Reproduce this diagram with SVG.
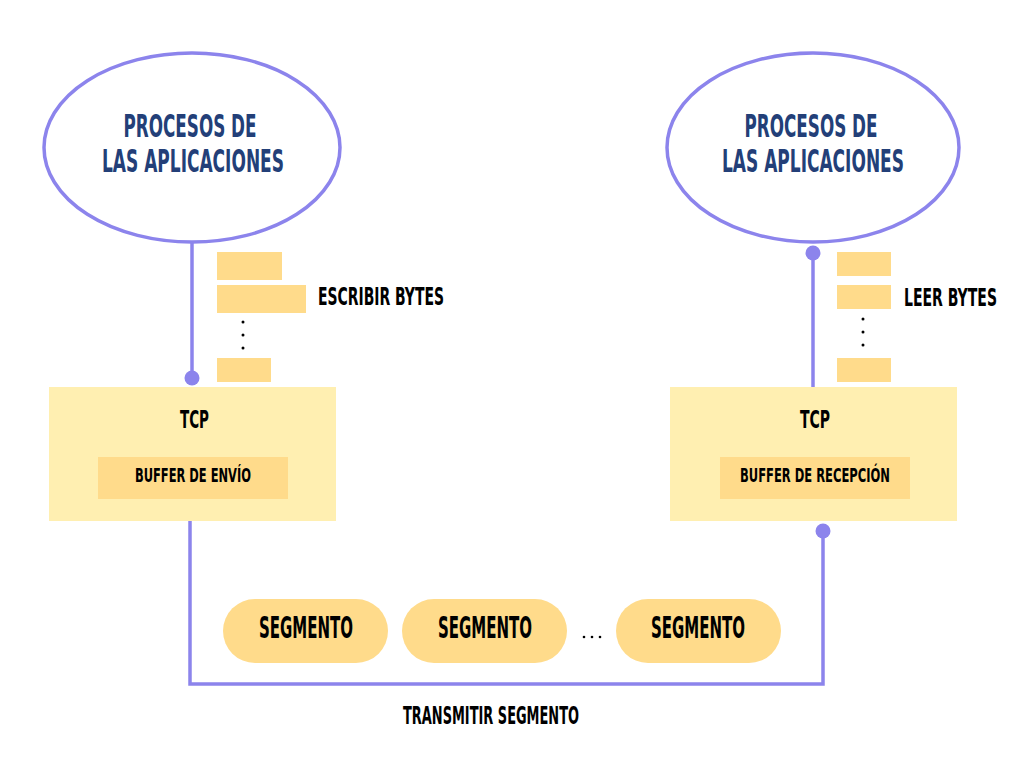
<svg xmlns="http://www.w3.org/2000/svg" width="1024" height="768" viewBox="0 0 1024 768">
<style>
text{font-family:"Liberation Sans Narrow","DejaVu Sans Condensed","Liberation Sans",sans-serif;font-weight:bold;}
.proc{fill:#233f78;font-size:32px;text-anchor:middle;}
.lbl{fill:#000;font-size:24px;}
.tcp{fill:#000;font-size:25px;text-anchor:middle;}
.buf{fill:#000;font-size:19px;text-anchor:middle;}
.seg{fill:#000;font-size:30px;text-anchor:middle;}
.ell{fill:#fff;stroke:#8c84ec;stroke-width:3.5;}
.box{fill:#ffefb1;}
.blk{fill:#ffdb8b;}
.ln{fill:none;stroke:#8c84ec;stroke-width:3.5;}
.dot{fill:#8c84ec;}
.pt{fill:#000;}
</style>
<rect width="1024" height="768" fill="#fff"/>
<g id="connectors">
<line class="ln" x1="192" y1="242" x2="192" y2="378"/>
<circle class="dot" cx="192" cy="378" r="7.5"/>
<line class="ln" x1="813" y1="253" x2="813" y2="387"/>
<circle class="dot" cx="813" cy="253" r="7.5"/>
<polyline class="ln" points="190,521 190,684 823,684 823,531"/>
<circle class="dot" cx="823" cy="531" r="7.5"/>
</g>
<g id="app-left">
<ellipse class="ell" cx="192" cy="147.5" rx="148" ry="94.5"/>
<text class="proc" x="190" y="137" textLength="133" lengthAdjust="spacingAndGlyphs">PROCESOS DE</text>
<text class="proc" x="193" y="172" textLength="182" lengthAdjust="spacingAndGlyphs">LAS APLICACIONES</text>
</g>
<g id="app-right">
<ellipse class="ell" cx="813" cy="147.5" rx="146" ry="94.5"/>
<text class="proc" x="811" y="137" textLength="133" lengthAdjust="spacingAndGlyphs">PROCESOS DE</text>
<text class="proc" x="813" y="172" textLength="182" lengthAdjust="spacingAndGlyphs">LAS APLICACIONES</text>
</g>
<g id="write-bytes">
<rect class="blk" x="217" y="252" width="65" height="28"/>
<rect class="blk" x="217" y="285" width="89" height="28"/>
<rect class="blk" x="217" y="358" width="54" height="24"/>
<circle class="pt" cx="243" cy="322" r="1.5"/>
<circle class="pt" cx="243" cy="335" r="1.5"/>
<circle class="pt" cx="243" cy="348" r="1.5"/>
<text class="lbl" x="318" y="305" textLength="126" lengthAdjust="spacingAndGlyphs">ESCRIBIR BYTES</text>
</g>
<g id="read-bytes">
<rect class="blk" x="837" y="252" width="54" height="24"/>
<rect class="blk" x="837" y="285" width="54" height="24"/>
<rect class="blk" x="837" y="358" width="54" height="24"/>
<circle class="pt" cx="863" cy="319" r="1.5"/>
<circle class="pt" cx="863" cy="332" r="1.5"/>
<circle class="pt" cx="863" cy="345" r="1.5"/>
<text class="lbl" x="904" y="306" textLength="93" lengthAdjust="spacingAndGlyphs">LEER BYTES</text>
</g>
<g id="tcp-left">
<rect class="box" x="49" y="387" width="287" height="134"/>
<text class="tcp" x="194.5" y="428" textLength="29" lengthAdjust="spacingAndGlyphs">TCP</text>
<rect class="blk" x="98" y="457" width="190" height="42"/>
<text class="buf" x="193" y="482" textLength="116" lengthAdjust="spacingAndGlyphs">BUFFER DE ENVÍO</text>
</g>
<g id="tcp-right">
<rect class="box" x="670" y="387" width="287" height="134"/>
<text class="tcp" x="815" y="428" textLength="30" lengthAdjust="spacingAndGlyphs">TCP</text>
<rect class="blk" x="720" y="457" width="190" height="42"/>
<text class="buf" x="815" y="482" textLength="150" lengthAdjust="spacingAndGlyphs">BUFFER DE RECEPCIÓN</text>
</g>
<g id="segment-1">
<rect class="blk" x="223" y="599" width="165" height="64" rx="32"/>
<text class="seg" x="306" y="638" textLength="94" lengthAdjust="spacingAndGlyphs">SEGMENTO</text>
</g>
<g id="segment-2">
<rect class="blk" x="402" y="599" width="165" height="64" rx="32"/>
<text class="seg" x="485" y="638" textLength="94" lengthAdjust="spacingAndGlyphs">SEGMENTO</text>
</g>
<g id="ellipsis">
<circle class="pt" cx="584" cy="637" r="1.3"/>
<circle class="pt" cx="592" cy="637" r="1.3"/>
<circle class="pt" cx="600" cy="637" r="1.3"/>
</g>
<g id="segment-3">
<rect class="blk" x="616" y="599" width="165" height="64" rx="32"/>
<text class="seg" x="698" y="638" textLength="94" lengthAdjust="spacingAndGlyphs">SEGMENTO</text>
</g>
<g id="transmit-label">
<text class="lbl" x="491" y="724" text-anchor="middle" textLength="176" lengthAdjust="spacingAndGlyphs">TRANSMITIR SEGMENTO</text>
</g>
</svg>
